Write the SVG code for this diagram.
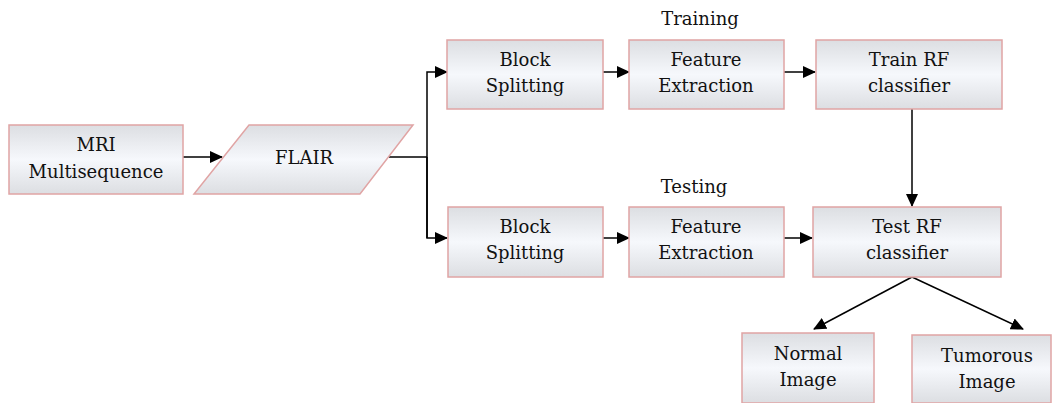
<svg xmlns="http://www.w3.org/2000/svg" width="1052" height="403" viewBox="0 0 1052 403">
<defs>
<linearGradient id="g" x1="0" y1="0" x2="0" y2="1">
<stop offset="0" stop-color="#dcdee2"/>
<stop offset="0.5" stop-color="#f6f8fc"/>
<stop offset="1" stop-color="#dcdee2"/>
</linearGradient>
<marker id="a" markerWidth="13" markerHeight="12" refX="12" refY="6" orient="auto" markerUnits="userSpaceOnUse" viewBox="0 0 13 12">
<path d="M0,0 L13,6 L0,12 z" fill="#000"/>
</marker>
</defs>
<style>
.b{fill:url(#g);stroke:#e0a4a4;stroke-width:1.5}
.t{font-family:"DejaVu Serif","Liberation Serif",serif;font-size:18px;fill:#111;text-anchor:middle}
.c{fill:none;stroke:#000;stroke-width:1.5}
</style>
<rect width="1052" height="403" fill="#fff"/>
<g id="connectors">
<line class="c" x1="183" y1="157" x2="222" y2="157" marker-end="url(#a)"/>
<polyline class="c" points="389,157 427,157"/>
<polyline class="c" points="427,238 427,72 447,72" marker-end="url(#a)"/>
<polyline class="c" points="427,157 427,238 447,238" marker-end="url(#a)"/>
<line class="c" x1="603" y1="72" x2="629" y2="72" marker-end="url(#a)"/>
<line class="c" x1="784" y1="72" x2="815" y2="72" marker-end="url(#a)"/>
<line class="c" x1="603" y1="238" x2="629" y2="238" marker-end="url(#a)"/>
<line class="c" x1="784" y1="238" x2="812" y2="238" marker-end="url(#a)"/>
<line class="c" x1="912" y1="109" x2="912" y2="206" marker-end="url(#a)"/>
<line class="c" x1="912" y1="277" x2="814" y2="329" marker-end="url(#a)"/>
<line class="c" x1="912" y1="277" x2="1023" y2="329" marker-end="url(#a)"/>
</g>
<g id="mri"><rect class="b" x="9" y="125" width="174" height="69"/><text class="t" x="96" y="151">MRI</text><text class="t" x="96" y="178">Multisequence</text></g>
<g id="flair"><polygon class="b" points="249,125 413,125 360,194 194,194"/><text class="t" x="304" y="164">FLAIR</text></g>
<g id="block1"><rect class="b" x="447" y="40" width="156" height="69"/><text class="t" x="525" y="66">Block</text><text class="t" x="525" y="92">Splitting</text></g>
<g id="feat1"><rect class="b" x="629" y="40" width="155" height="69"/><text class="t" x="706" y="66">Feature</text><text class="t" x="706" y="92">Extraction</text></g>
<g id="train"><rect class="b" x="816" y="40" width="186" height="69"/><text class="t" x="909" y="66">Train RF</text><text class="t" x="909" y="92">classifier</text></g>
<g id="lbl-training"><text class="t" x="700" y="25">Training</text></g>
<g id="lbl-testing"><text class="t" x="694" y="193">Testing</text></g>
<g id="block2"><rect class="b" x="448" y="207" width="155" height="70"/><text class="t" x="525" y="233">Block</text><text class="t" x="525" y="259">Splitting</text></g>
<g id="feat2"><rect class="b" x="629" y="207" width="155" height="70"/><text class="t" x="706" y="233">Feature</text><text class="t" x="706" y="259">Extraction</text></g>
<g id="test"><rect class="b" x="813" y="207" width="188" height="70"/><text class="t" x="907" y="233">Test RF</text><text class="t" x="907" y="259">classifier</text></g>
<g id="normal"><rect class="b" x="742" y="333" width="132" height="70"/><text class="t" x="808" y="360">Normal</text><text class="t" x="808" y="386">Image</text></g>
<g id="tumorous"><rect class="b" x="912" y="335" width="139" height="68"/><text class="t" x="987" y="362">Tumorous</text><text class="t" x="987" y="388">Image</text></g>
</svg>
